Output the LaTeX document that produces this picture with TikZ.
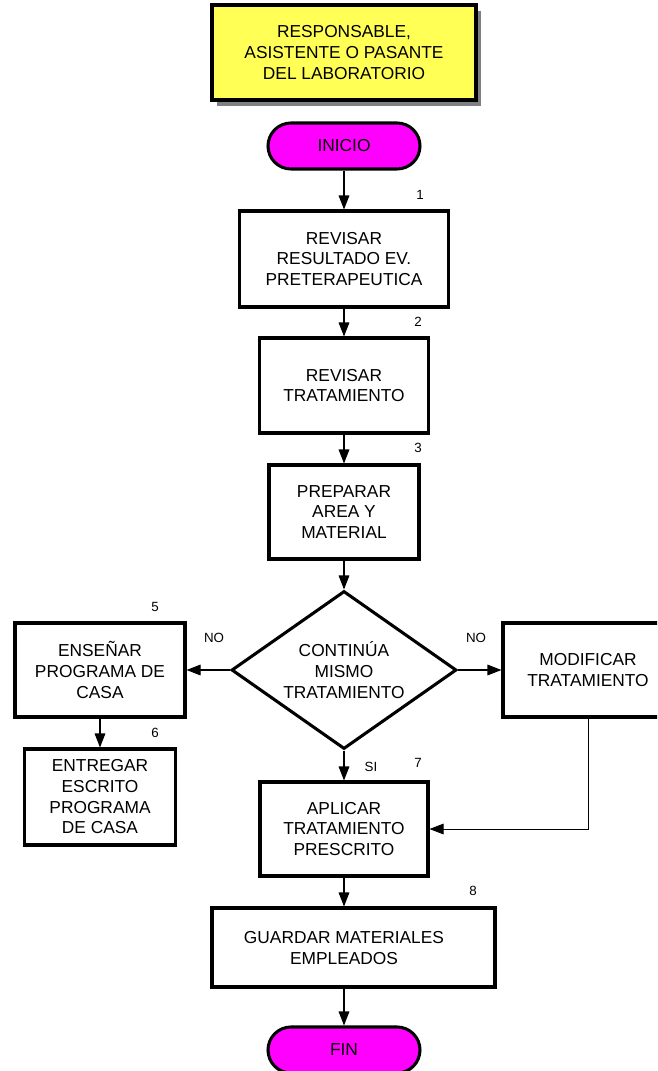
\documentclass[tikz,border=0pt]{standalone}
\usepackage{fontspec}
\setmainfont{Liberation Sans}
\usetikzlibrary{shapes.geometric,shapes.misc,arrows.meta,shadows}
\definecolor{boxyellow}{RGB}{255,255,85}
\definecolor{pinkfill}{RGB}{255,0,255}
\tikzset{
  stepbox/.style={draw=black, line width=2.3pt, fill=white, inner sep=0pt, align=center,
    font=\fontsize{13}{15.5}\selectfont},
  termbox/.style={draw=black, line width=2.3pt, fill=pinkfill, rounded rectangle,
    minimum width=114pt, minimum height=34.5pt, inner sep=0pt,
    font=\fontsize{13}{15.5}\selectfont},
  txt/.style={inner sep=0pt, align=center, font=\fontsize{13}{15.5}\selectfont},
  lbl/.style={inner sep=0pt, font=\fontsize{10}{11}\selectfont},
  conn/.style={draw=black, line width=0.8pt, -{Triangle[length=10.5pt,width=8pt]}},
}
\begin{document}
\begin{tikzpicture}[x=0.75pt,y=-0.75pt]
\useasboundingbox (0,0) rectangle (657,1071);
\clip (0,0) rectangle (657,1071);
\fill[white] (0,0) rectangle (657,1071);

% header
\node[stepbox, fill=boxyellow, minimum width=198pt, minimum height=71.25pt,
  font=\fontsize{13}{16}\selectfont,
  drop shadow={opacity=1, fill=black!50, shadow xshift=4pt, shadow yshift=-4.5pt}]
  (resp) at (344,52.5) {RESPONSABLE,\\ASISTENTE O PASANTE\\DEL LABORATORIO};

% terminals
\node[termbox] (inicio) at (344,146) {INICIO};
\node[termbox] (fin) at (344,1050) {FIN};

% steps
\node[stepbox, minimum width=156.75pt, minimum height=72pt] (b1) at (344,259)
  {REVISAR\\RESULTADO EV.\\PRETERAPEUTICA};
\node[stepbox, minimum width=126.75pt, minimum height=71.25pt] (b2) at (344,385.5)
  {REVISAR\\TRATAMIENTO};
\node[stepbox, minimum width=112.5pt, minimum height=70.5pt] (b3) at (344,512)
  {PREPARAR\\AREA Y\\MATERIAL};
\node[draw=black, line width=2.3pt, fill=white, diamond, inner sep=0pt,
  minimum width=168.75pt, minimum height=118.5pt] (d) at (344,670) {};
\node[txt] (dt) at (344,670) {CONTINÚA\\MISMO\\TRATAMIENTO};
\node[stepbox, minimum width=127.5pt, minimum height=70.5pt] (b5) at (100,670)
  {ENSEÑAR\\PROGRAMA DE\\CASA};
\node[stepbox, minimum width=113.25pt, minimum height=72pt] (b6) at (100,797)
  {ENTREGAR\\ESCRITO\\PROGRAMA\\DE CASA};
\node[stepbox, minimum width=127.5pt, minimum height=70.5pt] (mod) at (588,670)
  {MODIFICAR\\TRATAMIENTO};
\node[stepbox, minimum width=126pt, minimum height=70.5pt] (b7) at (344,829)
  {APLICAR\\TRATAMIENTO\\PRESCRITO};
\node[stepbox, minimum width=212.25pt, minimum height=59.25pt] (b8) at (353.5,947.5) {};
\node[txt] (b8t) at (344,948) {GUARDAR MATERIALES\\EMPLEADOS};

% connectors
\draw[conn] (inicio.south) -- (b1.north);
\draw[conn] (b1.south) -- (b2.north);
\draw[conn] (b2.south) -- (b3.north);
\draw[conn] (b3.south) -- (d.north);
\draw[conn] (d.west) -- (b5.east);
\draw[conn] (d.east) -- (mod.west);
\draw[conn] (b5.south) -- (b6.north);
\draw[conn] (d.south) -- (b7.north);
\draw[conn, line width=0.6pt] (mod.south) |- (b7.east);
\draw[conn] (b7.south) -- (b7.south |- b8.north);
\draw[conn] (fin.north |- b8.south) -- (fin.north);

% labels
\node[lbl] (n1) at (420,195) {1};
\node[lbl] (n2) at (418,322) {2};
\node[lbl] (n3) at (418,448) {3};
\node[lbl] (n5) at (155,607) {5};
\node[lbl] (n6) at (155,733) {6};
\node[lbl] (n7) at (418,763) {7};
\node[lbl] (n8) at (473,891) {8};
\node[lbl] (noL) at (214,638) {NO};
\node[lbl] (noR) at (476,638) {NO};
\node[lbl] (si) at (371,767) {SI};
\end{tikzpicture}
\end{document}
